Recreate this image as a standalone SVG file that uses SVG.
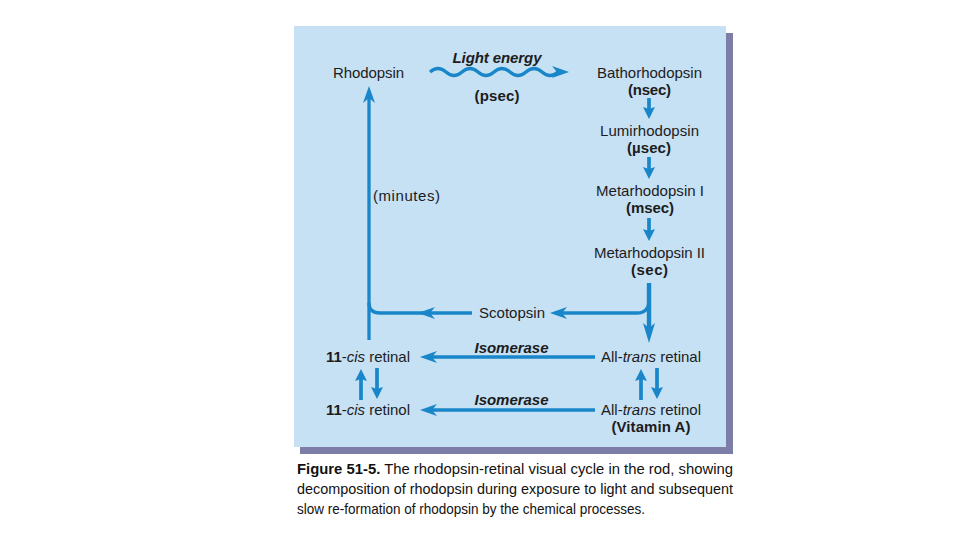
<svg xmlns="http://www.w3.org/2000/svg" xmlns:xlink="http://www.w3.org/1999/xlink" width="960" height="540" viewBox="0 0 960 540">
<style>
.lbl{font-family:"Liberation Sans",Arial,sans-serif;font-size:15px;fill:#1c1c1c;}
.b{font-weight:bold;}
.i{font-style:italic;}
.ln{fill:none;stroke:#1886c8;stroke-width:3.3;}
.sh{fill:none;stroke:#1886c8;stroke-width:3.7;}
.thk{fill:none;stroke:#1886c8;stroke-width:4.4;}
.ah{fill:#1886c8;}
.cap{font-family:"Liberation Sans",Arial,sans-serif;font-size:15px;fill:#111;}
</style>
<defs>
<path id="ahL" d="M0,0 L-17,-6 L-12,0 L-17,6 Z"/>
<path id="ahS" d="M0,0 L-12,-6 L-10,0 L-12,6 Z"/>
<path id="ahT" d="M0,0 L-20,-6 L-15,0 L-20,6 Z"/>
</defs>
<rect width="960" height="540" fill="#ffffff"/>
<g id="panel">
<rect x="300" y="33" width="433" height="421" fill="#7c7ea8"/>
<rect x="294" y="26" width="432" height="421" fill="#c6e0f4"/>
</g>
<g id="connectors">
<path class="ln" d="M430,72 q8,-7 16,0 t16,0 t16,0 t16,0 t16,0 t16,0 t16,0 t16,0"/>
<use xlink:href="#ahL" class="ah" transform="translate(569,72)"/>
<path class="sh" d="M649,98 L649,111"/>
<use xlink:href="#ahS" class="ah" transform="translate(649,119) rotate(90)"/>
<path class="sh" d="M649,157 L649,171"/>
<use xlink:href="#ahS" class="ah" transform="translate(649,179) rotate(90)"/>
<path class="sh" d="M649,218 L649,233"/>
<use xlink:href="#ahS" class="ah" transform="translate(649,241) rotate(90)"/>
<path class="thk" d="M649,283 L649,329"/>
<use xlink:href="#ahT" class="ah" transform="translate(649,343) rotate(90)"/>
<path class="ln" d="M649,300 Q649,313 637,313 L562,313"/>
<use xlink:href="#ahL" class="ah" transform="translate(550,313) rotate(180)"/>
<path class="ln" d="M472,313 L380,313 Q369,313 369,303"/>
<use xlink:href="#ahL" class="ah" transform="translate(418,313) rotate(180)"/>
<path class="ln" d="M369,340 L369,97"/>
<use xlink:href="#ahL" class="ah" transform="translate(369,86) rotate(-90)"/>
<path class="ln" d="M595,357 L432,357"/>
<use xlink:href="#ahL" class="ah" transform="translate(420,357) rotate(180)"/>
<path class="ln" d="M595,410 L432,410"/>
<use xlink:href="#ahL" class="ah" transform="translate(420,410) rotate(180)"/>
<path class="sh" d="M361,400 L361,377"/>
<use xlink:href="#ahS" class="ah" transform="translate(361,369) rotate(-90)"/>
<path class="sh" d="M377,368 L377,391"/>
<use xlink:href="#ahS" class="ah" transform="translate(377,399) rotate(90)"/>
<path class="sh" d="M641,400 L641,377"/>
<use xlink:href="#ahS" class="ah" transform="translate(641,369) rotate(-90)"/>
<path class="sh" d="M657,368 L657,391"/>
<use xlink:href="#ahS" class="ah" transform="translate(657,399) rotate(90)"/>
</g>
<g id="rhodopsin"><text class="lbl" x="368.5" y="78" text-anchor="middle" textLength="71">Rhodopsin</text></g>
<g id="light-energy">
<text class="lbl i" x="497" y="63" text-anchor="middle" textLength="89" font-weight="600">Light energy</text>
<text class="lbl b" x="497" y="101" text-anchor="middle" textLength="45">(psec)</text>
</g>
<g id="bathorhodopsin">
<text class="lbl" x="649.5" y="78" text-anchor="middle" textLength="105">Bathorhodopsin</text>
<text class="lbl b" x="649.5" y="95" text-anchor="middle" textLength="43">(nsec)</text>
</g>
<g id="lumirhodopsin">
<text class="lbl" x="649.5" y="136" text-anchor="middle" textLength="99">Lumirhodopsin</text>
<text class="lbl b" x="649" y="153" text-anchor="middle" textLength="44">(µsec)</text>
</g>
<g id="metarhodopsin-1">
<text class="lbl" x="650" y="196" text-anchor="middle" textLength="108">Metarhodopsin I</text>
<text class="lbl b" x="650" y="213" text-anchor="middle" textLength="48">(msec)</text>
</g>
<g id="metarhodopsin-2">
<text class="lbl" x="649.5" y="258" text-anchor="middle" textLength="111">Metarhodopsin II</text>
<text class="lbl b" x="649.5" y="275" text-anchor="middle" textLength="37">(sec)</text>
</g>
<g id="scotopsin"><text class="lbl" x="512" y="318" text-anchor="middle" textLength="66">Scotopsin</text></g>
<g id="minutes"><text class="lbl" x="373" y="201" textLength="67">(minutes)</text></g>
<g id="cis-retinal"><text class="lbl" x="326" y="362" textLength="84"><tspan class="b">11</tspan>-<tspan class="i">cis</tspan> retinal</text></g>
<g id="isomerase-1"><text class="lbl b i" x="511.5" y="353" text-anchor="middle" textLength="74">Isomerase</text></g>
<g id="trans-retinal"><text class="lbl" x="601" y="362" textLength="100">All-<tspan class="i">trans</tspan> retinal</text></g>
<g id="cis-retinol"><text class="lbl" x="326" y="415" textLength="84"><tspan class="b">11</tspan>-<tspan class="i">cis</tspan> retinol</text></g>
<g id="isomerase-2"><text class="lbl b i" x="511.5" y="405" text-anchor="middle" textLength="74">Isomerase</text></g>
<g id="trans-retinol">
<text class="lbl" x="601" y="415" textLength="100">All-<tspan class="i">trans</tspan> retinol</text>
<text class="lbl b" x="651" y="432" text-anchor="middle" textLength="79">(Vitamin A)</text>
</g>
<g id="caption">
<text class="cap" x="297" y="474" textLength="436" lengthAdjust="spacingAndGlyphs"><tspan font-weight="bold">Figure 51-5.</tspan> The rhodopsin-retinal visual cycle in the rod, showing</text>
<text class="cap" x="297" y="494" textLength="436" lengthAdjust="spacingAndGlyphs">decomposition of rhodopsin during exposure to light and subsequent</text>
<text class="cap" x="297" y="514" textLength="348" lengthAdjust="spacingAndGlyphs">slow re-formation of rhodopsin by the chemical processes.</text>
</g>
</svg>
